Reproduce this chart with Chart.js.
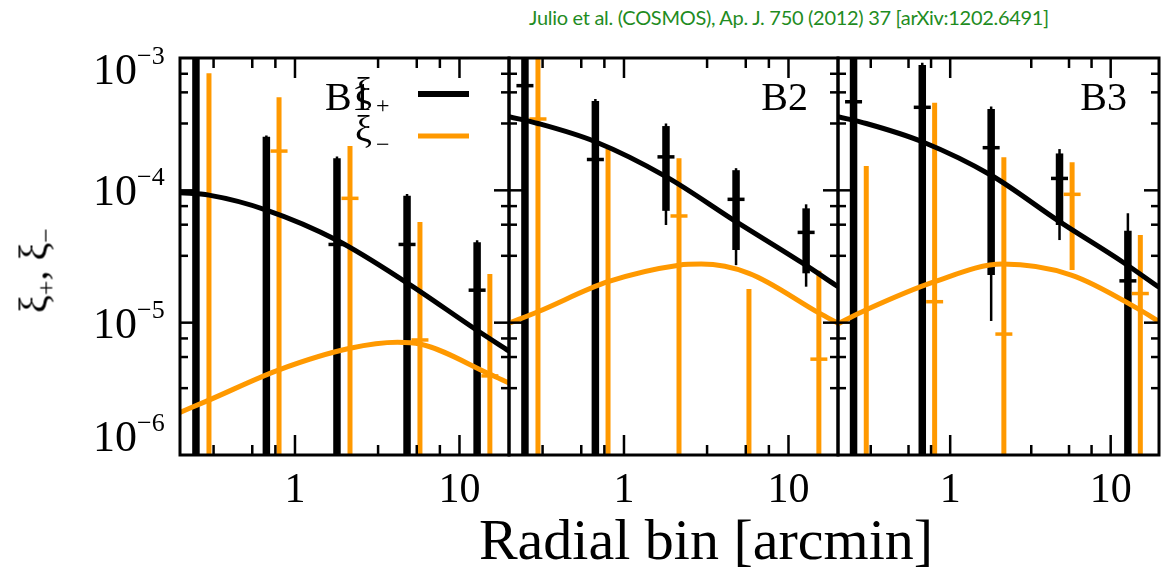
<!DOCTYPE html>
<html>
<head>
<meta charset="utf-8">
<script src="https://cdn.jsdelivr.net/npm/chart.js@4.4.1/dist/chart.umd.min.js"></script>
<style>
  body { margin: 0; background: #fff; width: 1171px; height: 580px; overflow: hidden; position: relative; }
  canvas { position: absolute; left: 0; top: 0; }
  #titre { position: absolute; top: 5px; left: 489px; width: 600px; text-align: center; color: #1f8c1f;
           font: 400 20px "Lato", sans-serif; white-space: nowrap; letter-spacing: -0.3px; }
  #xtitre { position: absolute; left: 356px; width: 700px; top: 511px; text-align: center;
            font: 58px/58px "Liberation Serif", serif; }
  #ytitre { position: absolute; left: -60px; top: 242px; width: 200px; text-align: center;
            font: 40px/44px "Liberation Serif", serif; transform: rotate(-90deg); }
  #ytitre sub { font-size: 26px; vertical-align: -8px; }
</style>
</head>
<body>
<div id="titre">Julio et al. (COSMOS), Ap. J. 750 (2012) 37 [arXiv:1202.6491]</div>
<canvas id="p1" width="1171" height="580"></canvas>
<canvas id="p2" width="1171" height="580"></canvas>
<canvas id="p3" width="1171" height="580"></canvas>
<div id="xtitre">Radial bin [arcmin]</div>
<div id="ytitre">ξ<sub>+</sub>, ξ<sub>−</sub></div>
<script>
// bornes des axes
const X_MIN = 0.2, X_MAX = 20;
const Y_MIN = 1e-6, Y_MAX = 1e-3;

// graduations
const xTickVals = [1, 10];
const xTickLabels = ['1', '10'];
const yTickExps = [-3, -4, -5, -6];
const minorMults = [3.2, 5.5, 7.6];

// positions des bins (xi+ et xi- légèrement décalés)
const xPlus = [0.25, 0.67, 1.8, 4.8, 12.8];
const xMinus = [0.30, 0.80, 2.16, 5.75, 15.3];

// B1 — une borne basse à 0 signifie négative (hors échelle)
const b1PlusVal = [null, null, 3.9e-5, 3.9e-5, 1.76e-5];
const b1PlusLo = [0, 0, 0, 0, 0];
const b1PlusHi = [2e-3, 2.54e-4, 1.75e-4, 9.1e-5, 4.05e-5];
const b1PlusLoTot = [0, 0, 0, 0, 0];
const b1PlusHiTot = [2e-3, 2.6e-4, 1.8e-4, 9.4e-5, 4.2e-5];
const b1MinusVal = [null, 1.98e-4, 8.7e-5, 7.4e-6, 3.96e-6];
const b1MinusLo = [0, 0, 0, 0, 0];
const b1MinusHi = [7.66e-4, 5.05e-4, 2.16e-4, 5.76e-5, 2.33e-5];

// B2
const b2PlusVal = [6.18e-4, 1.71e-4, 1.79e-4, 8.55e-5, 4.81e-5];
const b2PlusLo = [0, 0, 7.0e-5, 3.54e-5, 2.36e-5];
const b2PlusHi = [2e-3, 4.73e-4, 3.06e-4, 1.42e-4, 7.31e-5];
const b2PlusLoTot = [0, 0, 5.47e-5, 2.72e-5, 1.87e-5];
const b2PlusHiTot = [2e-3, 4.9e-4, 3.2e-4, 1.47e-4, 7.84e-5];
const b2MinusVal = [3.46e-4, null, 6.4e-5, null, 5.3e-6];
const b2MinusLo = [0, 0, 0, 0, 0];
const b2MinusHi = [2e-3, 2.05e-4, 1.75e-4, 1.8e-5, 2.47e-5];

// B3
const b3PlusVal = [4.67e-4, 4.24e-4, 2.1e-4, 1.23e-4, 2.07e-5];
const b3PlusLo = [0, 0, 2.29e-5, 5.47e-5, 0];
const b3PlusHi = [2e-3, 8.85e-4, 4.12e-4, 1.9e-4, 4.95e-5];
const b3PlusLoTot = [0, 0, 1.03e-5, 4.21e-5, 0];
const b3PlusHiTot = [2e-3, 9.2e-4, 4.3e-4, 2.05e-4, 6.7e-5];
const b3MinusVal = [null, 1.44e-5, 8.2e-6, 9.33e-5, 1.66e-5];
const b3MinusLo = [0, 0, 0, 2.5e-5, 0];
const b3MinusHi = [1.53e-4, 4.6e-4, 1.78e-4, 1.63e-4, 4.59e-5];

// modèles théoriques
const b1ThPlusX = [0.2, 0.3, 0.67, 1.8, 4.8, 12.7, 20];
const b1ThPlusY = [9.6e-5, 9.2e-5, 7.1e-5, 4.2e-5, 2.0e-5, 8.8e-6, 6.1e-6];
const b1ThMinusX = [0.2, 0.3, 0.8, 2.16, 4.2, 5.75, 15.2, 20];
const b1ThMinusY = [2.1e-6, 2.6e-6, 4.4e-6, 6.4e-6, 7.1e-6, 6.9e-6, 4.1e-6, 3.5e-6];
const b2ThPlusX = [0.2, 0.3, 0.67, 1.8, 4.8, 12, 20];
const b2ThPlusY = [3.6e-4, 3.2e-4, 2.33e-4, 1.27e-4, 5.8e-5, 2.85e-5, 1.87e-5];
const b2ThMinusX = [0.2, 0.3, 0.8, 2.16, 2.95, 5.75, 15.4, 20];
const b2ThMinusY = [9.9e-6, 1.21e-5, 2.04e-5, 2.72e-5, 2.77e-5, 2.36e-5, 1.18e-5, 9.9e-6];
const b3ThPlusX = [0.2, 0.3, 0.67, 1.8, 4.8, 12, 20];
const b3ThPlusY = [3.6e-4, 3.2e-4, 2.33e-4, 1.3e-4, 5.8e-5, 2.85e-5, 1.85e-5];
const b3ThMinusX = [0.2, 0.3, 0.8, 2.12, 5.68, 15.2, 20];
const b3ThMinusY = [9.8e-6, 1.25e-5, 2.04e-5, 2.77e-5, 2.29e-5, 1.25e-5, 1.02e-5];

const NOIR = '#000000';
const ORANGE = '#ff9900';
const PAGE_W = 1171, PAGE_H = 580;
const FRAME_TOP = 58, FRAME_BOTTOM = 455, PANEL_W = 329;
const SERIF = '"Liberation Serif", "Times New Roman", serif';

// cadre, graduations internes, étiquettes et légende
const cadrePlugin = {
    id: 'cadre',
    afterDraw(chart, args, o) {
        const { ctx, chartArea: a, scales: { x, y } } = chart;
        ctx.save();
        ctx.strokeStyle = NOIR;
        ctx.lineCap = 'butt';
        const seg = (x1, y1, x2, y2) => { ctx.beginPath(); ctx.moveTo(x1, y1); ctx.lineTo(x2, y2); ctx.stroke(); };

        ctx.lineWidth = 2.5;
        [0.1, 1, 10].forEach(d => [1, ...minorMults].forEach(m => {
            const v = d * m;
            if (v < x.min * 1.001 || v > x.max * 0.999) return;
            const px = x.getPixelForValue(v), len = m === 1 ? 20 : 10;
            seg(px, a.bottom, px, a.bottom - len);
            seg(px, a.top, px, a.top + len);
        }));
        [1e-7, 1e-6, 1e-5, 1e-4].forEach(d => [1, ...minorMults].forEach(m => {
            const v = d * m;
            if (v < y.min * 1.001 || v > y.max * 0.999) return;
            const py = y.getPixelForValue(v), len = m === 1 ? 15 : 8;
            seg(a.left, py, a.left + len, py);
            seg(a.right, py, a.right - len, py);
        }));
        ctx.lineWidth = 3;
        ctx.strokeRect(a.left, a.top, a.right - a.left, a.bottom - a.top);

        ctx.fillStyle = NOIR;
        ctx.textBaseline = 'alphabetic';
        ctx.font = '42px ' + SERIF;
        ctx.textAlign = 'center';
        xTickVals.forEach((v, i) => ctx.fillText(xTickLabels[i], x.getPixelForValue(v), 502));

        if (o.yLabels) {
            yTickExps.forEach(e => {
                let py = y.getPixelForValue(Math.pow(10, e));
                py = Math.min(Math.max(py, a.top + 11), a.bottom - 19);
                ctx.textAlign = 'right';
                ctx.font = '44px ' + SERIF;
                ctx.fillText('10', a.left - 43, py + 15);
                ctx.textAlign = 'left';
                ctx.font = '26px ' + SERIF;
                ctx.fillText('\u2212' + Math.abs(e), a.left - 43, py - 5);
            });
        }

        ctx.font = '40px ' + SERIF;
        ctx.textAlign = o.labelAlign;
        ctx.fillText(o.label, o.labelAlign === 'left' ? o.labelX : a.right - o.labelX, 110);

        if (o.legend) {
            ctx.textAlign = 'left';
            ctx.font = '38px ' + SERIF;
            ctx.fillText('ξ', 355, 104);
            ctx.fillText('ξ', 355, 142);
            ctx.font = '24px ' + SERIF;
            ctx.fillText('+', 376, 113);
            ctx.fillText('\u2212', 376, 152);
            ctx.lineWidth = 6;
            ctx.strokeStyle = NOIR;
            seg(418, 94, 469, 94);
            ctx.lineWidth = 5;
            ctx.strokeStyle = ORANGE;
            seg(418, 136, 469, 136);
        }
        ctx.restore();
    }
};

// une barre d'erreur = une ligne verticale à deux points
function barres(xs, lo, hi, couleur, largeur, ordre) {
    return xs.map((x, i) => ({
        type: 'line',
        data: [{ x, y: lo[i] > 0 ? lo[i] : Y_MIN / 10 }, { x, y: hi[i] }],
        borderColor: couleur, borderWidth: largeur, borderCapStyle: 'butt',
        pointRadius: 0, clip: 0, order: ordre
    }));
}

function centres(xs, vals, couleur, ordre) {
    return {
        type: 'scatter',
        data: xs.map((x, i) => ({ x, y: vals[i] })).filter(p => p.y !== null),
        pointStyle: 'line', pointRadius: 8.5, borderColor: couleur, borderWidth: 3.5,
        clip: 0, order: ordre
    };
}

function theorie(xs, ys, couleur, ordre) {
    return {
        type: 'line',
        data: xs.map((x, i) => ({ x, y: ys[i] })),
        borderColor: couleur, borderWidth: 5, pointRadius: 0,
        cubicInterpolationMode: 'monotone', clip: 0, order: ordre
    };
}

function creerPanneau(id, left, p, extra) {
    const datasets = [
        theorie(p.thMinusX, p.thMinusY, ORANGE, 1),
        theorie(p.thPlusX, p.thPlusY, NOIR, 2),
        centres(xMinus, p.minusVal, ORANGE, 3),
        ...barres(xMinus, p.minusLo, p.minusHi, ORANGE, 5, 4),
        centres(xPlus, p.plusVal, NOIR, 5),
        ...barres(xPlus, p.plusLo, p.plusHi, NOIR, 7.5, 6),
        ...barres(xPlus, p.plusLoTot, p.plusHiTot, NOIR, 2.5, 7)
    ];
    return new Chart(document.getElementById(id), {
        type: 'scatter',
        data: { datasets },
        options: {
            responsive: false,
            animation: false,
            devicePixelRatio: 1,
            events: [],
            layout: { padding: { left, top: FRAME_TOP, right: PAGE_W - left - PANEL_W, bottom: PAGE_H - FRAME_BOTTOM } },
            plugins: { legend: { display: false }, tooltip: { enabled: false }, cadre: extra },
            scales: {
                x: { type: 'logarithmic', min: X_MIN, max: X_MAX, display: false },
                y: { type: 'logarithmic', min: Y_MIN, max: Y_MAX, display: false }
            }
        },
        plugins: [cadrePlugin]
    });
}

creerPanneau('p1', 180, {
    plusVal: b1PlusVal, plusLo: b1PlusLo, plusHi: b1PlusHi, plusLoTot: b1PlusLoTot, plusHiTot: b1PlusHiTot,
    minusVal: b1MinusVal, minusLo: b1MinusLo, minusHi: b1MinusHi,
    thPlusX: b1ThPlusX, thPlusY: b1ThPlusY, thMinusX: b1ThMinusX, thMinusY: b1ThMinusY
}, { label: 'B1', labelAlign: 'left', labelX: 325, yLabels: true, legend: true });

creerPanneau('p2', 509, {
    plusVal: b2PlusVal, plusLo: b2PlusLo, plusHi: b2PlusHi, plusLoTot: b2PlusLoTot, plusHiTot: b2PlusHiTot,
    minusVal: b2MinusVal, minusLo: b2MinusLo, minusHi: b2MinusHi,
    thPlusX: b2ThPlusX, thPlusY: b2ThPlusY, thMinusX: b2ThMinusX, thMinusY: b2ThMinusY
}, { label: 'B2', labelAlign: 'right', labelX: 30, yLabels: false, legend: false });

creerPanneau('p3', 838, {
    plusVal: b3PlusVal, plusLo: b3PlusLo, plusHi: b3PlusHi, plusLoTot: b3PlusLoTot, plusHiTot: b3PlusHiTot,
    minusVal: b3MinusVal, minusLo: b3MinusLo, minusHi: b3MinusHi,
    thPlusX: b3ThPlusX, thPlusY: b3ThPlusY, thMinusX: b3ThMinusX, thMinusY: b3ThMinusY
}, { label: 'B3', labelAlign: 'right', labelX: 32, yLabels: false, legend: false });
</script>
</body>
</html>
